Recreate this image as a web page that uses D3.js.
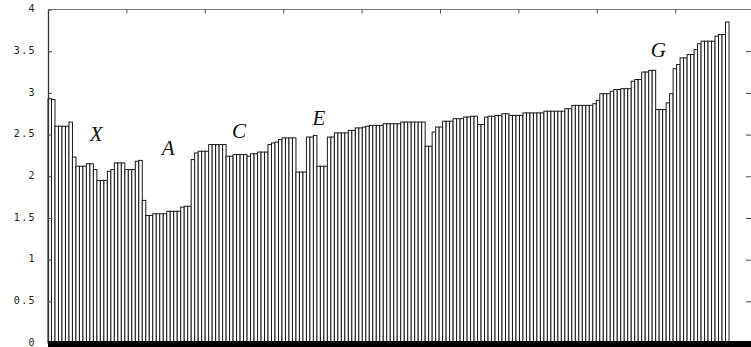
<!DOCTYPE html>
<html>
<head>
<meta charset="utf-8">
<script src="https://cdn.jsdelivr.net/npm/d3@7"></script>
<style>
  html, body { margin: 0; padding: 0; background: #fff; }
  svg { display: block; }
</style>
</head>
<body>
<svg id="chart" width="751" height="347"></svg>
<script>
// ---- data ----
const values = [
  2.93, 2.92, 2.60, 2.60, 2.60, 2.60, 2.65, 2.23, 2.12, 2.12,
  2.12, 2.15, 2.15, 2.08, 1.95, 1.95, 1.95, 2.06, 2.08, 2.16,
  2.16, 2.16, 2.08, 2.08, 2.08, 2.18, 2.19, 1.71, 1.53, 1.53,
  1.55, 1.55, 1.55, 1.55, 1.58, 1.58, 1.58, 1.58, 1.63, 1.64,
  1.64, 2.20, 2.28, 2.30, 2.30, 2.30, 2.38, 2.38, 2.38, 2.38,
  2.38, 2.24, 2.24, 2.26, 2.26, 2.26, 2.26, 2.24, 2.27, 2.27,
  2.29, 2.29, 2.29, 2.38, 2.40, 2.41, 2.44, 2.46, 2.46, 2.46,
  2.46, 2.05, 2.05, 2.05, 2.47, 2.47, 2.49, 2.12, 2.12, 2.12,
  2.47, 2.47, 2.52, 2.52, 2.52, 2.52, 2.55, 2.55, 2.58, 2.58,
  2.59, 2.60, 2.61, 2.61, 2.61, 2.61, 2.63, 2.63, 2.63, 2.63,
  2.63, 2.65, 2.65, 2.65, 2.65, 2.65, 2.65, 2.65, 2.36, 2.36,
  2.53, 2.59, 2.59, 2.66, 2.66, 2.66, 2.69, 2.69, 2.69, 2.71,
  2.71, 2.72, 2.72, 2.62, 2.62, 2.71, 2.72, 2.72, 2.73, 2.73,
  2.75, 2.75, 2.73, 2.73, 2.73, 2.73, 2.76, 2.76, 2.76, 2.76,
  2.76, 2.76, 2.78, 2.78, 2.78, 2.78, 2.78, 2.78, 2.81, 2.81,
  2.85, 2.85, 2.85, 2.85, 2.85, 2.85, 2.87, 2.91, 2.99, 2.99,
  2.99, 3.02, 3.04, 3.04, 3.05, 3.05, 3.05, 3.14, 3.16, 3.16,
  3.25, 3.25, 3.27, 3.27, 2.80, 2.80, 2.80, 2.88, 2.99, 3.29,
  3.34, 3.42, 3.42, 3.46, 3.46, 3.52, 3.59, 3.62, 3.62, 3.62,
  3.62, 3.68, 3.70, 3.70, 3.85
];
const categories = values.map((v, i) => i);

const yTicks = [0, 0.5, 1, 1.5, 2, 2.5, 3, 3.5, 4];
const yTickLabels = ["0", "0.5", "1", "1.5", "2", "2.5", "3", "3.5", "4"];
const xTicks = [0, 20, 40, 60, 80, 100, 120, 140, 160, 180];

const annoText = ["X", "A", "C", "E", "G"];
const annoIdx  = [13.8, 34.4, 54.7, 77.6, 174.8];
const annoVal  = [2.42, 2.26, 2.455, 2.61, 3.43];

// ---- layout ----
const svg = d3.select("#chart");
const mLeft = 48, mRight = 729, frameRight = 752, mTop = 9.5, mBottom = 343;

const x = d3.scaleBand().domain(categories).range([mLeft, mRight]).padding(0);
const y = d3.scaleLinear().domain([0, 4]).range([mBottom, mTop]);
const xAx = d3.scaleLinear().domain([0, 180]).range([mLeft, 753.6]);
const xCont = d3.scaleLinear().domain([0, values.length]).range([mLeft, mRight]);

// bars
svg.append("g")
  .selectAll("rect")
  .data(values)
  .join("rect")
  .attr("x", (d, i) => x(i))
  .attr("y", d => y(d))
  .attr("width", x.bandwidth())
  .attr("height", d => mBottom - y(d))
  .attr("fill", "#fff")
  .attr("stroke", "#1a1a1a")
  .attr("stroke-width", 1);

// frame top line
svg.append("line")
  .attr("x1", mLeft).attr("x2", frameRight)
  .attr("y1", mTop).attr("y2", mTop)
  .attr("stroke", "#777").attr("stroke-width", 1.2);

// left axis (ticks inward)
const yAxisL = d3.axisLeft(y)
  .tickValues(yTicks)
  .tickFormat((d, i) => yTickLabels[i])
  .tickSizeInner(-4)
  .tickSizeOuter(0)
  .tickPadding(12);
const gL = svg.append("g").attr("transform", `translate(${mLeft},0)`).call(yAxisL);
gL.select(".domain").attr("stroke", "#333").attr("stroke-width", 1.3);
gL.selectAll(".tick line").attr("stroke", "#444");
gL.selectAll(".tick text")
  .attr("dy", "0.22em")
  .attr("font-family", "'DejaVu Sans Mono', monospace")
  .attr("font-size", 10)
  .attr("letter-spacing", 1.4)
  .attr("fill", "#222");

// right axis ticks (inward)
const yAxisR = d3.axisRight(y)
  .tickValues(yTicks.slice(1, -1))
  .tickFormat("")
  .tickSizeInner(-6)
  .tickSizeOuter(0);
const gR = svg.append("g").attr("transform", `translate(${frameRight},0)`).call(yAxisR);
gR.select(".domain").attr("stroke", "#555");
gR.selectAll(".tick line").attr("stroke", "#444");

// top ticks
const xAxisT = d3.axisTop(xAx)
  .tickValues(xTicks.slice(1))
  .tickFormat("")
  .tickSizeInner(-4)
  .tickSizeOuter(0);
const gT = svg.append("g").attr("transform", `translate(0,${mTop})`).call(xAxisT);
gT.select(".domain").remove();
gT.selectAll(".tick line").attr("stroke", "#555");

// bottom thick baseline
svg.append("rect")
  .attr("x", mLeft).attr("y", mBottom - 2)
  .attr("width", 751 - mLeft).attr("height", 347 - mBottom + 2)
  .attr("fill", "#000");

// annotations
svg.append("g")
  .selectAll("text")
  .data(annoText)
  .join("text")
  .attr("x", (d, i) => xCont(annoIdx[i]))
  .attr("y", (d, i) => y(annoVal[i]))
  .attr("text-anchor", "middle")
  .attr("font-family", "'Liberation Serif', 'DejaVu Serif', serif")
  .attr("font-style", "italic")
  .attr("font-size", 21)
  .attr("fill", "#111")
  .text(d => d);
</script>
</body>
</html>
